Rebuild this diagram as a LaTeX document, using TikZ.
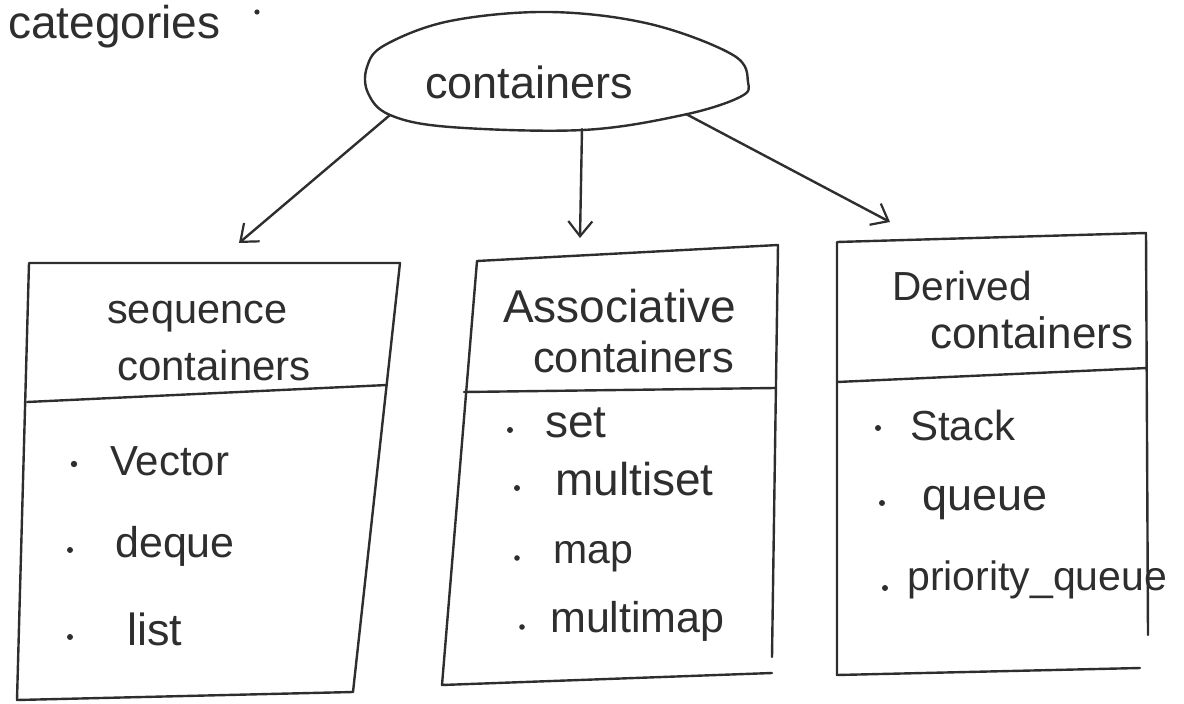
\documentclass[tikz,border=0pt]{standalone}
\usepackage{fontspec}
\setmainfont{Liberation Sans}
\usetikzlibrary{arrows.meta}
\definecolor{pen}{HTML}{2E2E2E}
\begin{document}
\begin{tikzpicture}[x=1pt,y=-1pt,
  ink/.style={draw=pen, line width=2.4pt, line join=round, line cap=round},
  arrowline/.style={ink, -{Straight Barb[length=15pt,width=24pt,line width=2.2pt]}},
  hand/.style={text=pen, inner sep=0pt, anchor=base west},
  fs/.style={font=\fontsize{#1}{#1}\selectfont},
  bulletdot/.style={fill=pen}]
\useasboundingbox (0,0) rectangle (1184,704);

% heading with its full stop
\node[hand, fs=46] (heading) at (8,38) {categories};
\fill[bulletdot] (257,12) circle (2.6);

% root outline
\draw[ink] plot[smooth cycle, tension=0.6] coordinates {
  (550,12) (650,24) (733,55) (748,82) (740,97) (683,115) (583,130)
  (450,127) (390,115) (368,93) (367,67) (385,45) (450,21)};
\node[hand, fs=45] (root) at (425,98) {containers};
\coordinate (rootL) at (390,115);
\coordinate (rootM) at (582,129);
\coordinate (rootR) at (686,114);

% arrow tips above the three boxes
\coordinate (seqtip) at (239,243);
\coordinate (assoctip) at (580,238);
\coordinate (dertip) at (890,222);
\draw[arrowline] (rootL) -- (seqtip);
\draw[arrowline] (rootM) -- (assoctip);
\draw[arrowline] (rootR) -- (dertip);

% sequence containers box
\draw[ink] (29,263) -- (400,263) -- (353,692) -- (17,700) -- cycle;
\draw[ink] (27,402) -- (387,385);
\node[hand, fs=41.5] (seqA) at (107,323) {sequence};
\node[hand, fs=42] (seqB) at (117,380) {containers};
\node[hand, fs=42] (vec) at (110,475) {Vector};
\node[hand, fs=43] (deq) at (115,557) {deque};
\node[hand, fs=45] (lst) at (127,645) {list};
\fill[bulletdot] (74,464) circle (3.2) (70,550) circle (3) (70,637) circle (3);

% associative containers box
\draw[ink] (772,657) -- (778,245) -- (477,261) -- (442,685) -- (772,673);
\draw[ink] (464,392) -- (775,388);
\node[hand, fs=46] (assA) at (503,322) {Associative};
\node[hand, fs=43.5] (assB) at (533,372) {containers};
\node[hand, fs=46] (setn) at (545,437) {set};
\node[hand, fs=46] (mset) at (555,495) {multiset};
\node[hand, fs=41] (mapn) at (553,563) {map};
\node[hand, fs=43] (mmap) at (550,632) {multimap};
\fill[bulletdot] (510,430) circle (3) (517,488) circle (3) (517,558) circle (2.8) (522,627) circle (2.8);

% derived containers box
\draw[ink] (1148,635) -- (1146,233) -- (837,242) -- (837,675) -- (1140,668);
\draw[ink] (837,382) -- (1147,368);
\node[hand, fs=40.6] (derA) at (892,300) {Derived};
\node[hand, fs=44] (derB) at (930,348) {containers};
\node[hand, fs=42] (stk) at (910,440) {Stack};
\node[hand, fs=45] (que) at (922,510) {queue};
\node[hand, fs=41] (pque) at (907,590) {priority\_queue};
\fill[bulletdot] (878,428) circle (3) (882,503) circle (3) (885,588) circle (3);
\end{tikzpicture}
\end{document}
